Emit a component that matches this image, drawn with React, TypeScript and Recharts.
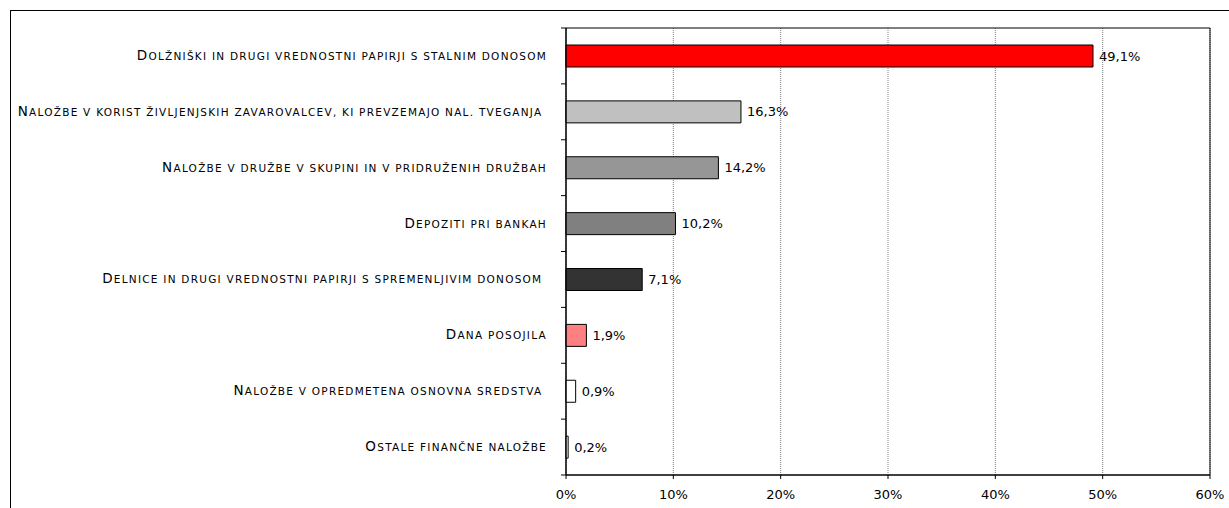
import React from "react";
import { BarChart, Bar, XAxis, YAxis, CartesianGrid, LabelList, Cell, ReferenceArea } from "recharts";

const categories = [
  "Dolžniški in drugi vrednostni papirji s stalnim donosom",
  "Naložbe v korist življenjskih zavarovalcev, ki prevzemajo nal. tveganja ",
  "Naložbe v družbe v skupini in v pridruženih družbah",
  "Depoziti pri bankah",
  "Delnice in drugi vrednostni papirji s spremenljivim donosom ",
  "Dana posojila",
  "Naložbe v opredmetena osnovna sredstva ",
  "Ostale finančne naložbe",
];
const values = [49.1, 16.3, 14.2, 10.2, 7.1, 1.9, 0.9, 0.2];
const colors = ["#FF0000", "#C0C0C0", "#969696", "#808080", "#333333", "#FF8080", "#FFFFFF", "#FFFFFF"];
const xTicks = [0, 10, 20, 30, 40, 50, 60];

const data = categories.map((c, i) => ({ name: c, value: values[i] }));

const W = 1229;
const H = 508;
const M = { top: 28, right: 19, bottom: 0, left: 0 };
const XH = 33;
const PLOT_H = H - M.top - M.bottom - XH;
const BAND = PLOT_H / categories.length;

const CatTick = (props: any) => {
  const { x, y, payload, index } = props;
  const s: string = payload.value;
  const first = s.charAt(0);
  const rest = s.slice(1).toUpperCase();
  return (
    <g>
      <line x1={x - 5} x2={x} y1={y - BAND / 2} y2={y - BAND / 2} stroke="#000" />
      {index === categories.length - 1 && (
        <line x1={x - 5} x2={x} y1={y + BAND / 2} y2={y + BAND / 2} stroke="#000" />
      )}
      <text
        x={x - 19}
        y={y}
        dy={4}
        textAnchor="end"
        fill="#000"
        style={{ fontFamily: "'DejaVu Sans', sans-serif", whiteSpace: "pre", letterSpacing: 1.25 }}
      >
        <tspan fontSize={13.5}>{first}</tspan>
        <tspan fontSize={10.5}>{rest}</tspan>
      </text>
    </g>
  );
};

const fmt = (v: any) => String(v.toFixed(1)).replace(".", ",") + "%";

export default function App() {
  return (
    <div style={{ position: "absolute", left: 0, top: 0, width: W, height: H, background: "#fff" }}>
      <div style={{ position: "absolute", left: 10, top: 10, width: W, height: H, borderLeft: "1px solid #000", borderTop: "1px solid #000" }} />
      <div style={{ position: "absolute", left: 0, top: 0 }}>
        <BarChart width={W} height={H} data={data} layout="vertical" margin={M} barSize={22}>
          <CartesianGrid horizontal={false} vertical stroke="#808080" strokeDasharray="1 1" />
          <XAxis
            type="number"
            domain={[0, 60]}
            ticks={xTicks}
            tickFormatter={(v: number) => v + "%"}
            height={XH}
            axisLine={{ stroke: "#000" }}
            tickLine={{ stroke: "#000" }}
            tickSize={4}
            tickMargin={11}
            tick={{ fill: "#000", fontSize: 13, fontFamily: "'DejaVu Sans', sans-serif" }}
          />
          <YAxis
            type="category"
            dataKey="name"
            width={566}
            axisLine={{ stroke: "#000" }}
            tickLine={false}
            tickSize={0}
            tickMargin={0}
            interval={0}
            tick={<CatTick />}
          />
          <ReferenceArea x1={0} x2={60} fill="none" stroke="#000" strokeOpacity={1} fillOpacity={0} ifOverflow="visible" />
          <Bar dataKey="value" stroke="#000" strokeWidth={1} isAnimationActive={false}>
            {data.map((d, i) => (
              <Cell key={i} fill={colors[i]} />
            ))}
            <LabelList
              dataKey="value"
              position="right"
              offset={6}
              formatter={fmt}
              style={{ fill: "#000", fontSize: 13, fontFamily: "'DejaVu Sans', sans-serif" }}
            />
          </Bar>
        </BarChart>
      </div>
    </div>
  );
}
